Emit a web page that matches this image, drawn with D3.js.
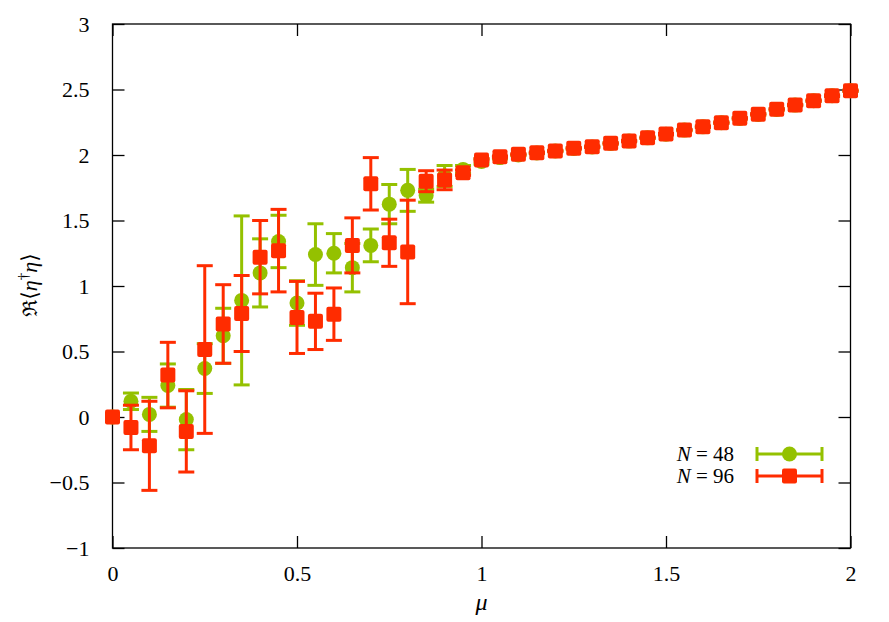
<!DOCTYPE html>
<html>
<head>
<meta charset="utf-8">
<script src="https://cdn.jsdelivr.net/npm/d3@7"></script>
<style>
  html, body { margin: 0; padding: 0; background: #fff; }
  svg { display: block; }
  text { font-family: "Times New Roman", "Liberation Serif", "DejaVu Serif", "Noto Serif", serif; fill: #000; }
</style>
</head>
<body>
<svg id="chart" width="889" height="622"></svg>
<script>
// ---- data ----
const muValues = [0, 0.05, 0.1, 0.15, 0.2, 0.25, 0.3, 0.35, 0.4, 0.45, 0.5, 0.55, 0.6, 0.65, 0.7, 0.75, 0.8, 0.85, 0.9, 0.95,
  1.0, 1.05, 1.1, 1.15, 1.2, 1.25, 1.3, 1.35, 1.4, 1.45, 1.5, 1.55, 1.6, 1.65, 1.7, 1.75, 1.8, 1.85, 1.9, 1.95, 2.0];

const n48Values = [0, 0.12, 0.02, 0.24, -0.02, 0.37, 0.62, 0.89, 1.10, 1.34, 0.87, 1.24, 1.25, 1.14, 1.31, 1.625, 1.73, 1.69, 1.84, 1.89,
  1.95, 1.98, 2.0, 2.015, 2.03, 2.05, 2.062, 2.088, 2.106, 2.131, 2.159, 2.19, 2.215, 2.246, 2.279, 2.31, 2.348, 2.381, 2.414, 2.452, 2.49];
const n48Errors = [0, 0.063, 0.13, 0.165, 0.23, 0.19, 0.21, 0.645, 0.26, 0.20, 0.17, 0.235, 0.15, 0.185, 0.125, 0.15, 0.16, 0.05, 0.08, 0.03,
  0.02, 0.01, 0.005, 0.005, 0.005, 0.005, 0.005, 0.005, 0.005, 0.005, 0.005, 0.005, 0.005, 0.005, 0.005, 0.005, 0.005, 0.005, 0.005, 0.005, 0.005];

const n96Values = [0, -0.08, -0.22, 0.32, -0.11, 0.515, 0.71, 0.79, 1.22, 1.27, 0.76, 0.73, 0.785, 1.31, 1.78, 1.33, 1.26, 1.80, 1.81, 1.865,
  1.962, 1.987, 2.005, 2.018, 2.031, 2.051, 2.063, 2.089, 2.107, 2.132, 2.16, 2.191, 2.216, 2.247, 2.28, 2.311, 2.349, 2.382, 2.415, 2.453, 2.491];
const n96Errors = [0, 0.17, 0.34, 0.25, 0.31, 0.64, 0.30, 0.29, 0.28, 0.315, 0.275, 0.215, 0.20, 0.21, 0.20, 0.18, 0.395, 0.08, 0.075, 0.02,
  0.01, 0.005, 0.005, 0.005, 0.005, 0.005, 0.005, 0.005, 0.005, 0.005, 0.005, 0.005, 0.005, 0.005, 0.005, 0.005, 0.005, 0.005, 0.005, 0.005, 0.005];

const xTicks = [0, 0.5, 1, 1.5, 2];
const yTicks = [-1, -0.5, 0, 0.5, 1, 1.5, 2, 2.5, 3];
const seriesNames = ["48", "96"];
const seriesColors = ["#94c100", "#ff2c00"];

// ---- layout ----
const svg = d3.select("#chart");
const pLeft = 112.5, pRight = 850.5, pTop = 24, pBottom = 548;
const x = d3.scaleLinear().domain([0, 2]).range([pLeft, pRight]);
const y = d3.scaleLinear().domain([-1, 3]).range([pBottom, pTop]);
const fmt = d => String(d).replace("-", "\u2212");

// frame
svg.append("rect").attr("x", pLeft).attr("y", pTop).attr("width", pRight - pLeft).attr("height", pBottom - pTop)
  .attr("fill", "none").attr("stroke", "#000").attr("stroke-width", 1.3);

const tickLen = 12;
const axB = svg.append("g").attr("transform", `translate(0,${pBottom})`)
  .call(d3.axisBottom(x).tickValues(xTicks).tickFormat(fmt).tickSizeInner(-tickLen).tickSizeOuter(0).tickPadding(17));
const axT = svg.append("g").attr("transform", `translate(0,${pTop})`)
  .call(d3.axisTop(x).tickValues(xTicks).tickFormat("").tickSizeInner(-tickLen).tickSizeOuter(0));
const axL = svg.append("g").attr("transform", `translate(${pLeft},0)`)
  .call(d3.axisLeft(y).tickValues(yTicks).tickFormat(fmt).tickSizeInner(-tickLen).tickSizeOuter(0).tickPadding(23));
const axR = svg.append("g").attr("transform", `translate(${pRight},0)`)
  .call(d3.axisRight(y).tickValues(yTicks).tickFormat("").tickSizeInner(-tickLen).tickSizeOuter(0));
[axB, axT, axL, axR].forEach(a => {
  a.select(".domain").remove();
  a.attr("font-family", null);
  a.selectAll("line").attr("stroke", "#000").attr("stroke-width", 1.3);
  a.selectAll("text").attr("font-size", 22).attr("fill", "#000");
});

// axis titles
svg.append("text").attr("x", (pLeft + pRight) / 2).attr("y", 610).attr("text-anchor", "middle")
  .attr("font-size", 24).attr("font-style", "italic").text("\u03bc");

const yl = svg.append("text").attr("transform", "translate(37,285) rotate(-90)").attr("text-anchor", "middle").attr("font-size", 22);
yl.append("tspan").attr("font-size", 20).text("\u211c");
yl.append("tspan").text("\u27e8");
yl.append("tspan").attr("font-style", "italic").text("\u03b7");
yl.append("tspan").attr("font-size", 15).attr("dy", -9).text("\u2020");
yl.append("tspan").attr("font-style", "italic").attr("dy", 9).text("\u03b7");
yl.append("tspan").text("\u27e9");

// ---- series ----
const data = [
  muValues.map((m, i) => ({ mu: m, v: n48Values[i], e: n48Errors[i] })),
  muValues.map((m, i) => ({ mu: m, v: n96Values[i], e: n96Errors[i] }))
];
const cap = 8, sq = 15, rad = 7.5, lw = 3;

data.forEach((series, si) => {
  const col = seriesColors[si];
  const g = svg.append("g");
  const eb = g.selectAll("g.eb").data(series.filter(d => d.e > 0.004)).join("g");
  eb.append("line").attr("x1", d => x(d.mu)).attr("x2", d => x(d.mu))
    .attr("y1", d => y(d.v + d.e)).attr("y2", d => y(d.v - d.e)).attr("stroke", col).attr("stroke-width", lw);
  eb.append("line").attr("x1", d => x(d.mu) - cap).attr("x2", d => x(d.mu) + cap)
    .attr("y1", d => y(d.v + d.e)).attr("y2", d => y(d.v + d.e)).attr("stroke", col).attr("stroke-width", lw);
  eb.append("line").attr("x1", d => x(d.mu) - cap).attr("x2", d => x(d.mu) + cap)
    .attr("y1", d => y(d.v - d.e)).attr("y2", d => y(d.v - d.e)).attr("stroke", col).attr("stroke-width", lw);
  if (si === 0) {
    g.selectAll("circle").data(series).join("circle")
      .attr("cx", d => x(d.mu)).attr("cy", d => y(d.v)).attr("r", rad).attr("fill", col);
  } else {
    g.selectAll("rect").data(series).join("rect")
      .attr("x", d => x(d.mu) - sq / 2).attr("y", d => y(d.v) - sq / 2)
      .attr("width", sq).attr("height", sq).attr("rx", 2).attr("fill", col);
  }
});

// ---- legend ----
const legY = [454, 476];
const legText = svg.append("text").attr("font-size", 21).attr("text-anchor", "end");
seriesNames.forEach((name, i) => {
  const col = seriesColors[i];
  const row = legText.append("tspan").attr("x", 734).attr("y", legY[i] + 7);
  row.append("tspan").attr("font-style", "italic").text("N");
  row.append("tspan").text(" = " + name);
  const lg = svg.append("g");
  const x1 = 757, x2 = 822, yy = legY[i];
  lg.append("line").attr("x1", x1).attr("x2", x2).attr("y1", yy).attr("y2", yy).attr("stroke", col).attr("stroke-width", lw);
  lg.append("line").attr("x1", x1).attr("x2", x1).attr("y1", yy - 7).attr("y2", yy + 7).attr("stroke", col).attr("stroke-width", lw);
  lg.append("line").attr("x1", x2).attr("x2", x2).attr("y1", yy - 7).attr("y2", yy + 7).attr("stroke", col).attr("stroke-width", lw);
  if (i === 0) lg.append("circle").attr("cx", (x1 + x2) / 2).attr("cy", yy).attr("r", rad).attr("fill", col);
  else lg.append("rect").attr("x", (x1 + x2) / 2 - sq / 2).attr("y", yy - sq / 2).attr("width", sq).attr("height", sq).attr("rx", 2).attr("fill", col);
});
</script>
</body>
</html>
